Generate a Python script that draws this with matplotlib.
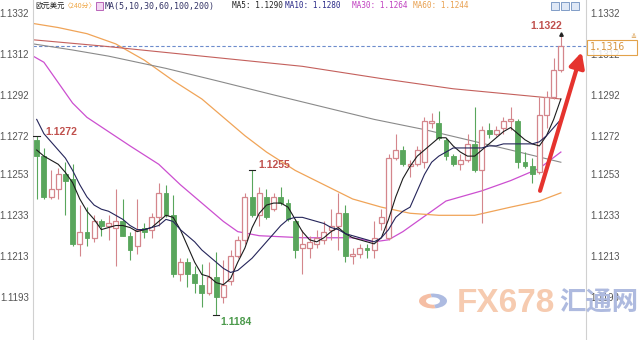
import matplotlib
matplotlib.use('Agg')
import matplotlib.pyplot as plt
from matplotlib.patches import Rectangle, Circle, Wedge

plt.rcParams['font.family'] = ['Noto Sans CJK SC', 'DejaVu Sans']

# ---------------- data ----------------
opens = [1.1270, 1.1262, 1.1242, 1.1246, 1.1253, 1.1251, 1.1219, 1.1225, 1.1222, 1.1230,
         1.1228, 1.1227, 1.1230, 1.1223, 1.1218, 1.1227, 1.1226, 1.1232, 1.1244, 1.1233,
         1.1204, 1.1210, 1.1204, 1.1199, 1.1195, 1.1203, 1.1193, 1.1201, 1.1213, 1.1221,
         1.1242, 1.1233, 1.1242, 1.1236, 1.1242, 1.1239, 1.1230, 1.1217, 1.1217, 1.1219,
         1.1221, 1.1226, 1.1228, 1.1234, 1.1213, 1.1214, 1.1217, 1.1216, 1.1229, 1.1222,
         1.1261, 1.1265, 1.1257, 1.1258, 1.1259, 1.1278, 1.1278, 1.1270, 1.1262, 1.1258,
         1.1260, 1.1268, 1.1255, 1.1275, 1.1273, 1.1276, 1.1279, 1.1279, 1.1259, 1.1257,
         1.1254, 1.1282, 1.1291, 1.1304]
highs = [1.1272, 1.1266, 1.1255, 1.1256, 1.1259, 1.1258, 1.1238, 1.1237, 1.1233, 1.1231,
         1.1233, 1.1246, 1.1241, 1.1225, 1.1241, 1.1229, 1.1234, 1.1249, 1.1248, 1.1243,
         1.1212, 1.1212, 1.1208, 1.1209, 1.1210, 1.1215, 1.1211, 1.1216, 1.1223, 1.1244,
         1.1255, 1.1247, 1.1246, 1.1244, 1.1247, 1.1241, 1.1231, 1.1226, 1.1223, 1.1226,
         1.1230, 1.1236, 1.1244, 1.1238, 1.1217, 1.1219, 1.1219, 1.1230, 1.1236, 1.1263,
         1.1273, 1.1267, 1.1260, 1.1267, 1.1281, 1.1283, 1.1284, 1.1271, 1.1263, 1.1263,
         1.1273, 1.1286, 1.1277, 1.1278, 1.1277, 1.1281, 1.1286, 1.1280, 1.1264, 1.1261,
         1.1291, 1.1294, 1.1310, 1.1322]
lows = [1.1241, 1.1241, 1.1241, 1.1241, 1.1233, 1.1218, 1.1213, 1.1218, 1.1220, 1.1223,
        1.1221, 1.1208, 1.1223, 1.1211, 1.1214, 1.1222, 1.1222, 1.1228, 1.1232, 1.1203,
        1.1201, 1.1198, 1.1195, 1.1188, 1.1194, 1.1184, 1.1190, 1.1199, 1.1212, 1.1219,
        1.1232, 1.1228, 1.1231, 1.1235, 1.1238, 1.1230, 1.1212, 1.1204, 1.1212, 1.1217,
        1.1219, 1.1221, 1.1216, 1.1210, 1.1209, 1.1212, 1.1212, 1.1212, 1.1226, 1.1221,
        1.1260, 1.1257, 1.1252, 1.1257, 1.1256, 1.1276, 1.1270, 1.1260, 1.1257, 1.1255,
        1.1259, 1.1254, 1.1229, 1.1271, 1.1272, 1.1273, 1.1275, 1.1256, 1.1256, 1.1249,
        1.1253, 1.1276, 1.1290, 1.1303]
closes = [1.1262, 1.1242, 1.1246, 1.1253, 1.1250, 1.1219, 1.1225, 1.1222, 1.1230, 1.1228,
          1.1229, 1.1230, 1.1223, 1.1216, 1.1226, 1.1225, 1.1232, 1.1244, 1.1233, 1.1204,
          1.1210, 1.1204, 1.1200, 1.1195, 1.1203, 1.1193, 1.1199, 1.1213, 1.1221, 1.1242,
          1.1233, 1.1244, 1.1232, 1.1242, 1.1239, 1.1231, 1.1216, 1.1219, 1.1220, 1.1222,
          1.1225, 1.1228, 1.1234, 1.1213, 1.1214, 1.1217, 1.1216, 1.1222, 1.1232, 1.1261,
          1.1265, 1.1258, 1.1258, 1.1265, 1.1279, 1.1279, 1.1271, 1.1262, 1.1258, 1.1260,
          1.1268, 1.1255, 1.1275, 1.1273, 1.1275, 1.1279, 1.1280, 1.1259, 1.1257, 1.1253,
          1.1282, 1.1291, 1.1304, 1.1316]

ma5 = [1.1265, 1.1262, 1.1260, 1.1258, 1.1254, 1.1249, 1.1241, 1.1235, 1.1231, 1.1226,
       1.1227, 1.1228, 1.1228, 1.1227, 1.1225, 1.1226, 1.1227, 1.1230, 1.1233, 1.1232,
       1.1226, 1.1218, 1.1210, 1.1204, 1.1203, 1.1200, 1.1199, 1.1202, 1.1210, 1.1217,
       1.1227, 1.1234, 1.1238, 1.1239, 1.1239, 1.1237, 1.1231, 1.1225, 1.1221, 1.1220,
       1.1222, 1.1225, 1.1227, 1.1224, 1.1222, 1.1221, 1.1220, 1.1219, 1.1222, 1.1231,
       1.1242, 1.1251, 1.1257, 1.1262, 1.1265, 1.1268, 1.1271, 1.1271, 1.1267, 1.1264,
       1.1262, 1.1262, 1.1265, 1.1268, 1.1271, 1.1274, 1.1276, 1.1273, 1.1270, 1.1268,
       1.1267, 1.1272, 1.1280, 1.1290]
ma10 = [1.1280, 1.1273, 1.1269, 1.1265, 1.1261, 1.1255, 1.1248, 1.1242, 1.1238, 1.1236,
        1.1235, 1.1233, 1.1231, 1.1228, 1.1226, 1.1226, 1.1227, 1.1228, 1.1231, 1.1230,
        1.1226, 1.1223, 1.1220, 1.1216, 1.1213, 1.1210, 1.1207, 1.1205, 1.1206, 1.1209,
        1.1212, 1.1216, 1.1220, 1.1224, 1.1228, 1.1231, 1.1232, 1.1232, 1.1231, 1.1230,
        1.1229, 1.1227, 1.1226, 1.1224, 1.1223, 1.1222, 1.1221, 1.1220, 1.1222, 1.1226,
        1.1232, 1.1235, 1.1237, 1.1245, 1.1253, 1.1259, 1.1262, 1.1264, 1.1266, 1.1266,
        1.1266, 1.1266, 1.1266, 1.1267, 1.1267, 1.1268, 1.1268, 1.1268, 1.1268, 1.1268,
        1.1269, 1.1272, 1.1276, 1.1280]
ma30_idx = [-0.5, 1, 3, 5, 7, 10, 13, 17, 20, 23, 26, 28, 31, 37, 44, 47, 49, 51, 55, 57, 62, 66, 70, 73]
ma30 = [1.1311, 1.1308, 1.1298, 1.1288, 1.1281, 1.1274, 1.1267, 1.1258, 1.1248, 1.1239,
        1.1230, 1.1225, 1.1223, 1.1222, 1.1222, 1.1220, 1.1221, 1.1225, 1.1235, 1.1240,
        1.1245, 1.1250, 1.1256, 1.1264]
ma60_idx = [-0.5, 3, 7, 11, 15, 19, 23, 26, 29, 32, 36, 40, 44, 48, 52, 56, 61, 66, 70, 73]
ma60 = [1.1327, 1.1325, 1.1322, 1.1317, 1.1309, 1.1299, 1.1290, 1.1281, 1.1272, 1.1264,
        1.1255, 1.1248, 1.1241, 1.1237, 1.1234, 1.1233, 1.1233, 1.1237, 1.1240, 1.1244]
ma100_idx = [-0.5, 5, 10, 18, 25, 33, 40, 47, 54, 60, 66, 73]
ma100 = [1.1317, 1.1314, 1.1311, 1.1305, 1.1299, 1.1292, 1.1286, 1.1280, 1.1275, 1.1270,
         1.1265, 1.1259]
ma200_idx = [-0.5, 9, 23, 37, 48, 58, 70, 73]
ma200 = [1.1319, 1.1316, 1.1311, 1.1306, 1.1300, 1.1295, 1.1291, 1.1290]

tick_vals = [1.1332, 1.1312, 1.1292, 1.1272, 1.1253, 1.1233, 1.1213, 1.1193]
tick_labels = ['1.1332', '1.1312', '1.1292', '1.1272', '1.1253', '1.1233', '1.1213', '1.1193']

last_price = 1.1316
hi_first, hi_mid, lo_min, hi_last = 1.1272, 1.1255, 1.1184, 1.1322
hi_first_i, hi_mid_i, lo_min_i, hi_last_i = 0, 30, 25, 73
arrow_from = (70.1, 1.1245)
arrow_to = (75.9, 1.1313)

# ---------------- figure ----------------
W, H = 640, 340
fig = plt.figure(figsize=(6.4, 3.4), dpi=100)
fig.patch.set_facecolor('white')
ax = fig.add_axes([33 / W, 0, (586 - 33) / W, 1])
ax.set_xlim(-0.515, 76.5)
ax.set_ylim(1.11719, 1.13385)
for s in ['top', 'bottom']:
    ax.spines[s].set_visible(False)
for s in ['left', 'right']:
    ax.spines[s].set_color('#d0d0d0')
    ax.spines[s].set_linewidth(0.8)
ax.set_xticks([])
ax.set_yticks(tick_vals)
ax.set_yticklabels(tick_labels)
ax.tick_params(axis='y', length=0, labelleft=True, labelright=True, labelsize=7,
               labelcolor='#555555', pad=3)
for lab in ax.get_yticklabels():
    lab.set_family(['Liberation Sans', 'DejaVu Sans'])


def px(x, y):
    return (x / W, 1 - y / H)


# watermark (behind everything)
logo_c = px(433, 301)
fig.patches.append(Wedge(logo_c, 14 / W, 100, 280, width=7 / W, transform=fig.transFigure,
                         facecolor='#f4b394', edgecolor='none', alpha=0.85, zorder=0))
fig.patches.append(Wedge(logo_c, 14 / W, 280, 100, width=7 / W, transform=fig.transFigure,
                         facecolor='#9fb0dc', edgecolor='none', alpha=0.85, zorder=0))
fig.text(*px(457, 303), 'FX678', fontsize=24, fontweight='bold', color='#f6cbb0',
         family=['Liberation Sans', 'DejaVu Sans'], va='center', ha='left', zorder=0)
fig.text(*px(559, 303), '汇通网', fontsize=19, fontweight='bold', color='#aebadf',
         va='center', ha='left', zorder=0)

ax.set_facecolor('none')

# candles
GREEN = '#59a65c'
RED = '#d4868c'
bw = 0.68
for i, (o, h, l, c) in enumerate(zip(opens, highs, lows, closes)):
    top, bot = max(o, c), min(o, c)
    if c >= o:
        ax.plot([i, i], [top, h], color=RED, lw=0.8, zorder=3, solid_capstyle='butt')
        ax.plot([i, i], [l, bot], color=RED, lw=0.8, zorder=3, solid_capstyle='butt')
        if top - bot < 0.00004:
            ax.plot([i - bw / 2, i + bw / 2], [c, c], color=RED, lw=1.0, zorder=4)
        else:
            ax.add_patch(Rectangle((i - bw / 2, bot), bw, top - bot, facecolor='white',
                                   edgecolor=RED, lw=0.9, zorder=4))
    else:
        ax.plot([i, i], [l, h], color=GREEN, lw=0.8, zorder=3, solid_capstyle='butt')
        ax.add_patch(Rectangle((i - bw / 2, bot), bw, max(top - bot, 0.00003),
                               facecolor=GREEN, edgecolor=GREEN, lw=0.6, zorder=4))

# moving averages
ax.plot(range(len(ma5)), ma5, color='#1c1c1c', lw=0.8, zorder=5)
ax.plot(range(len(ma10)), ma10, color='#25255a', lw=0.8, zorder=5)
ax.plot(ma30_idx, ma30, color='#cc4fd0', lw=0.9, zorder=2)
ax.plot(ma60_idx, ma60, color='#f0a458', lw=0.9, zorder=2)
ax.plot(ma100_idx, ma100, color='#8a8a8a', lw=0.8, zorder=2)
ax.plot(ma200_idx, ma200, color='#c4605c', lw=0.8, zorder=2)

# current price dashed line
ax.axhline(last_price, color='#6d8ccc', lw=0.8, ls=(0, (3, 2)), zorder=1)

# high / low markers
lab_font = ['Liberation Sans', 'DejaVu Sans']
ax.plot([hi_first_i - 0.5, hi_first_i + 0.5], [hi_first, hi_first], color='#222', lw=0.8, zorder=6)
ax.annotate('1.1272', (hi_first_i, hi_first), xytext=(9, 4), textcoords='offset pixels',
            fontsize=7.5, fontweight='bold', color='#c0504d', family=lab_font, va='center')
ax.plot([hi_mid_i - 0.4, hi_mid_i + 0.4], [hi_mid, hi_mid], color='#222', lw=0.8, zorder=6)
ax.annotate('1.1255', (hi_mid_i, hi_mid), xytext=(6, 5), textcoords='offset pixels',
            fontsize=7.5, fontweight='bold', color='#c0504d', family=lab_font, va='center')
ax.plot([lo_min_i - 0.4, lo_min_i + 0.4], [lo_min, lo_min], color='#222', lw=0.8, zorder=6)
ax.annotate('1.1184', (lo_min_i, lo_min), xytext=(4, -7), textcoords='offset pixels',
            fontsize=7.5, fontweight='bold', color='#4c9a4c', family=lab_font, va='center')
ax.plot([hi_last_i], [hi_last], marker='^', ms=2.5, color='#222', zorder=6)
ax.annotate('1.1322', (hi_last_i, hi_last), xytext=(-15, 8), textcoords='offset pixels',
            fontsize=7.5, fontweight='bold', color='#c0504d', family=lab_font,
            va='center', ha='center')

# red arrow
ax.annotate('', xy=arrow_to, xytext=arrow_from,
            arrowprops=dict(arrowstyle='-|>,head_length=0.9,head_width=0.45',
                            color='#e5332e', lw=3.0, shrinkA=0, shrinkB=0),
            annotation_clip=False, zorder=7)

# price tag on right (covers the right-hand 1.1312 label as in the reference)
x0, y0 = px(587, 55)
x1, y1 = px(637, 40)
fig.patches.append(Rectangle((x0, y0), x1 - x0, y1 - y0, transform=fig.transFigure,
                             facecolor='white', alpha=0.85, edgecolor='none', zorder=10))
fig.patches.append(Rectangle((x0, y0), x1 - x0, y1 - y0, transform=fig.transFigure,
                             facecolor='none', edgecolor='#e2a24a', lw=0.8, zorder=10))
fig.text(*px(590, 47.5), '1.1316', fontsize=7, color='#d7953e', family=['DejaVu Sans Mono'],
         va='center', ha='left', zorder=11)
fig.text(*px(633, 37), '≚', fontsize=5, color='#d7953e', va='center', ha='center')

# header
mono = ['DejaVu Sans Mono', 'Noto Sans CJK SC']
fig.text(*px(35, 6), '欧元美元', fontsize=5.3, color='#222222', va='center', ha='left')
fig.text(*px(64, 6), '〈240分〉', fontsize=5.0, color='#f0a848', va='center', ha='left')
bx0, by0 = px(96, 10)
fig.patches.append(Rectangle((bx0, by0), 7 / W, 8 / H, transform=fig.transFigure,
                             facecolor='#f2d6f2', edgecolor='#b050b0', lw=0.6))
fig.text(*px(105, 6), 'MA(5,10,30,60,100,200)', fontsize=6.0, color='#333366',
         family=mono, va='center', ha='left')
fig.text(*px(232, 6), 'MA5: 1.1290', fontsize=5.6, color='#222222', family=mono, va='center')
fig.text(*px(285, 6), 'MA10: 1.1280', fontsize=5.6, color='#2a2a88', family=mono, va='center')
fig.text(*px(352, 6), 'MA30: 1.1264', fontsize=5.6, color='#c040c0', family=mono, va='center')
fig.text(*px(413, 6), 'MA60: 1.1244', fontsize=5.6, color='#e8a050', family=mono, va='center')
for bx in (551, 561, 571):
    ix0, iy0 = px(bx, 10)
    fig.patches.append(Rectangle((ix0, iy0), 8 / W, 8 / H, transform=fig.transFigure,
                                 facecolor='#dfe8f6', edgecolor='#6f8fbf', lw=0.6))

fig.savefig('out.png', dpi=100)
